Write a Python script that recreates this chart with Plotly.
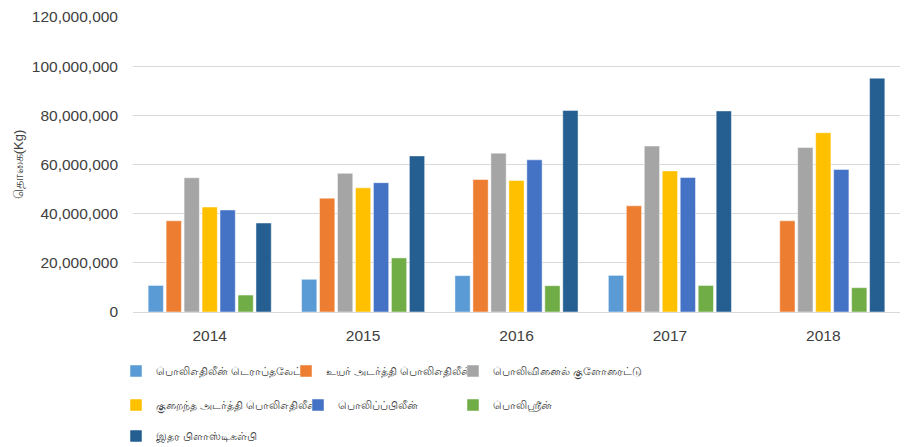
import plotly.graph_objects as go

years = ["2014", "2015", "2016", "2017", "2018"]

series_names = [
    "பொலிஎதிலீன் டெராப்தலேட்",
    "உயர் அடர்த்தி பொலிஎதிலீன்",
    "பொலிவினைல் குளோரைட்டு",
    "குறைந்த அடர்த்தி பொலிஎதிலீன்",
    "பொலிப்ப்பிலீன்",
    "பொலிஸ்ரீன்",
    "இதர பிளாஸ்டிகள்பி",
]

pet = [10.8e6, 13.3e6, 14.8e6, 14.9e6, None]
hdpe = [37.1e6, 46.3e6, 53.9e6, 43.2e6, 37.1e6]
pvc = [54.6e6, 56.4e6, 64.6e6, 67.5e6, 66.9e6]
ldpe = [42.7e6, 50.5e6, 53.5e6, 57.4e6, 72.9e6]
pp = [41.5e6, 52.6e6, 61.9e6, 54.7e6, 58.0e6]
ps = [6.9e6, 22.0e6, 10.7e6, 10.8e6, 9.9e6]
other = [36.2e6, 63.5e6, 82.0e6, 81.8e6, 95.1e6]

series_values = [pet, hdpe, pvc, ldpe, pp, ps, other]
colors = ["#5B9BD5", "#ED7D31", "#A5A5A5", "#FFC000", "#4472C4", "#70AD47", "#255E91"]

y_tickvals = [0, 20e6, 40e6, 60e6, 80e6, 100e6, 120e6]
y_ticktext = ["0", "20,000,000", "40,000,000", "60,000,000", "80,000,000", "100,000,000", "120,000,000"]

W, H = 907, 447
ml, mr, mt, mb = 133, 7, 17, 135
pw = W - ml - mr
ph = H - mt - mb

# legend item positions (pixel coords of item start, row centre)
leg_px = [(116, 371), (286, 371), (453, 371), (116, 405), (298, 405), (453, 405), (116, 436)]

fig = go.Figure()
for i, (name, vals, col) in enumerate(zip(series_names, series_values, colors)):
    lg = "legend" if i == 0 else f"legend{i+1}"
    fig.add_trace(go.Bar(
        x=years, y=vals, name=name,
        marker=dict(color=col, line=dict(color="rgba(255,255,255,0.6)", width=0.8)),
        legend=lg,
    ))

font_family = "Liberation Sans, Arial, Noto Sans, sans-serif"
layout_legends = {}
for i, (px, py) in enumerate(leg_px):
    key = "legend" if i == 0 else f"legend{i+1}"
    layout_legends[key] = dict(
        x=(px - ml) / pw,
        y=(H - mb - py) / ph,
        xanchor="left", yanchor="middle",
        orientation="h",
        bgcolor="rgba(0,0,0,0)",
        font=dict(family=font_family, size=10.5, color="#404040"),
        itemclick=False,
    )

fig.update_layout(
    width=W, height=H,
    margin=dict(l=ml, r=mr, t=mt, b=mb, autoexpand=False),
    paper_bgcolor="white", plot_bgcolor="white",
    barmode="group",
    bargap=0.18,
    bargroupgap=0.15,
    font=dict(family=font_family, color="#404040"),
    showlegend=True,
    **layout_legends,
)

fig.update_xaxes(
    showgrid=False, showline=False, zeroline=False,
    tickfont=dict(size=15.5, color="#404040", family=font_family),
    ticks="",
    ticklabelstandoff=12,
)
fig.update_yaxes(
    range=[0, 120e6],
    tickvals=y_tickvals, ticktext=y_ticktext,
    showgrid=True, gridcolor="#D9D9D9", gridwidth=1,
    zeroline=True, zerolinecolor="#D9D9D9", zerolinewidth=1,
    showline=False, ticks="",
    ticklabelstandoff=14,
    tickfont=dict(size=15.5, color="#404040", family=font_family),
    title=dict(text="தொகை(Kg)", font=dict(size=13, color="#404040", family=font_family), standoff=5),
)

fig.write_html(
    "out.html",
    config={"displayModeBar": False},
    post_script="document.body.style.margin='0';document.body.style.overflow='hidden';",
)
